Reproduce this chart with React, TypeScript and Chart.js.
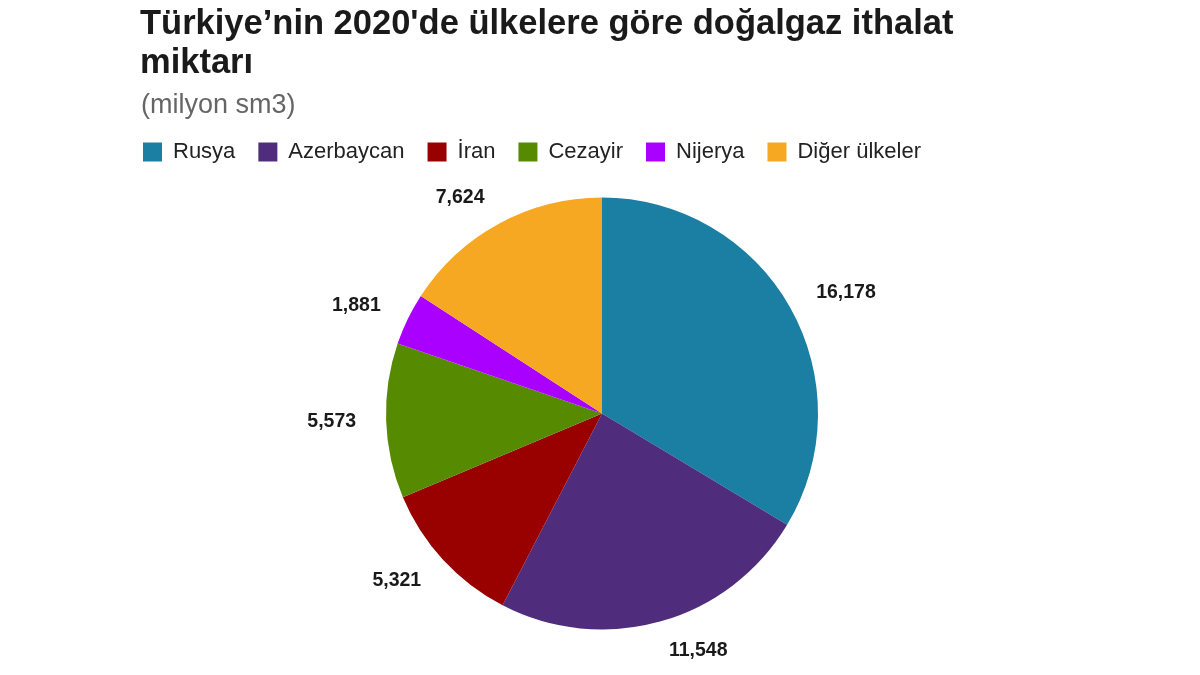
import React, { useEffect, useRef } from "react";
import { Chart, registerables } from "chart.js";

Chart.register(...registerables);

const titleLines = ["Türkiye’nin 2020'de ülkelere göre doğalgaz ithalat", "miktarı"];
const subtitleText = "(milyon sm3)";
const countries = ["Rusya", "Azerbaycan", "İran", "Cezayir", "Nijerya", "Diğer ülkeler"];
const imports = [16178, 11548, 5321, 5573, 1881, 7624];
const sliceColors = ["#1A7FA2", "#4F2C7C", "#990000", "#568A00", "#AA00FF", "#F6A823"];

const FONT = "'Liberation Sans', Arial, Helvetica, sans-serif";

const outsideLabels = {
  id: "outsideLabels",
  afterDatasetsDraw(chart: any) {
    const ctx = chart.ctx;
    const meta = chart.getDatasetMeta(0);
    const values = chart.data.datasets[0].data;
    ctx.save();
    ctx.font = `bold 19.5px ${FONT}`;
    ctx.fillStyle = "#1a1a1a";
    ctx.textBaseline = "middle";
    meta.data.forEach((arc: any, i: number) => {
      const { x, y, startAngle, endAngle, outerRadius } = arc.getProps(
        ["x", "y", "startAngle", "endAngle", "outerRadius"],
        true
      );
      const mid = (startAngle + endAngle) / 2;
      const d = outerRadius + 30;
      const lx = x + Math.cos(mid) * d;
      const ly = y + Math.sin(mid) * d;
      ctx.textAlign = Math.cos(mid) >= 0 ? "left" : "right";
      ctx.fillText(Number(values[i]).toLocaleString("en-US"), lx, ly);
    });
    ctx.restore();
  },
};

export default function App() {
  const canvasRef = useRef<HTMLCanvasElement | null>(null);

  useEffect(() => {
    if (!canvasRef.current) return;
    const chart = new Chart(canvasRef.current, {
      type: "pie",
      data: {
        labels: countries,
        datasets: [
          {
            data: imports,
            backgroundColor: sliceColors,
            borderWidth: 0,
          },
        ],
      },
      options: {
        responsive: false,
        animation: false,
        radius: 216,
        layout: { padding: { left: 120, right: 116, top: 118, bottom: 21 } },
        plugins: {
          legend: {
            position: "top",
            align: "start",
            labels: {
              boxWidth: 19,
              boxHeight: 19,
              padding: 23,
              color: "#222",
              font: { family: FONT, size: 22 },
            },
          },
          tooltip: { enabled: false },
          title: { display: false },
        },
      },
      plugins: [outsideLabels],
    });
    return () => chart.destroy();
  }, []);

  return (
    <div style={{ position: "absolute", left: 0, top: 0, width: 1200, height: 675, background: "#fff", overflow: "hidden" }}>
      <canvas ref={canvasRef} width={1200} height={675} style={{ position: "absolute", left: 0, top: 0, display: "block" }} />
      <div
        style={{
          position: "absolute",
          left: 140,
          top: 3,
          font: `bold 34.5px ${FONT}`,
          lineHeight: "39px",
          color: "#1a1a1a",
          whiteSpace: "nowrap",
        }}
      >
        {titleLines.map((l, i) => (
          <div key={i}>{l}</div>
        ))}
      </div>
      <div
        style={{
          position: "absolute",
          left: 141,
          top: 89,
          font: `27px ${FONT}`,
          lineHeight: "30px",
          color: "#666",
          whiteSpace: "nowrap",
        }}
      >
        {subtitleText}
      </div>
    </div>
  );
}
